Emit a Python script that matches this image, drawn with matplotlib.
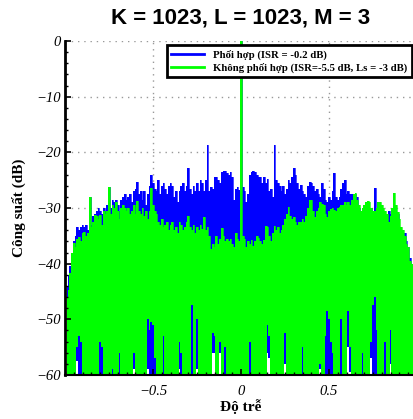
import numpy as np
import matplotlib
matplotlib.use("Agg")
import matplotlib.pyplot as plt
from matplotlib.ticker import MultipleLocator

# Delay axis (normalised), one sample every 0.01 from -0.99 to 0.99
delay = np.round(np.arange(-99, 100) * 0.01, 2)

# Upper envelope (dB) -- "Phối hợp" (blue)
blue_left = [
    -44, -42, -40.5, -38, -36, -35, -33.5, -34, -33.5, -33,
    -33.5, -33, -34, -28, -33, -31.5, -31, -30.5, -30, -30.5,
    -31, -30, -30.5, -29.5, -26.2, -30, -28.5, -29, -28.5, -29.5,
    -30.5, -28.5, -28, -27.5, -28.5, -28, -27.5, -29, -27, -26.5,
    -25.3, -27.5, -27, -28.5, -27, -29.5, -27.5, -26, -24.1, -25.5,
    -26.5, -27, -25, -27.5, -26, -25.5, -26.5, -27.5, -26, -25.5,
    -26, -28, -27, -29, -27, -26, -25.5, -27, -26, -22.9,
    -26.5, -27.5, -26, -27, -25.5, -27, -25, -25.5, -27, -25,
    -18.7, -27, -26.2, -26.5, -24.4, -24.5, -25, -25.5, -23.5, -23.3,
    -23.4, -23.8, -24, -23.6, -24.5, -28.5, -26.5, -26.2, -26.8,
]
blue_zero = [0.0]
blue_right = [
    -26.2, -27, -29, -27.5, -24, -23.5, -23.3, -23.5, -24, -24.5,
    -24.5, -25.5, -24.5, -25.5, -24.8, -27, -26.5, -28, -18.7, -25,
    -25.5, -26, -27, -26, -27.5, -26.5, -25, -25.5, -24.5, -22.9,
    -24, -25.5, -26.5, -25.8, -27, -27.5, -28, -26, -25.3, -25.5,
    -26, -27, -26.5, -27.5, -28, -25.5, -26.5, -28.6, -29, -28,
    -28.5, -27, -23.7, -28, -28.5, -28, -26.5, -25.5, -25, -27.5,
    -27, -27.5, -27.5, -28, -27.5, -28, -30, -31, -30.5, -31.5,
    -30, -30.5, -31, -30, -31, -26.4, -31, -31.5, -30.5, -30.5,
    -31.5, -31, -32, -30.5, -31, -33, -32, -33, -31, -34,
    -34.5, -35, -34.5, -36, -37, -39, -40, -42, -44,
]

# Upper envelope (dB) -- "Không phối hợp" (green)
green_left = [
    -46, -44.7, -41.7, -38, -36.3, -37, -35.5, -35.2, -36, -34.5,
    -34.3, -35, -34.5, -28, -33.5, -32.5, -31.3, -31.5, -32, -31.3,
    -33, -30.5, -31, -30.5, -26.2, -31, -29.5, -30, -29, -30.5,
    -32, -30, -29.5, -30, -30.5, -30, -31, -30.5, -29.5, -31,
    -28.7, -30.5, -31, -30, -31.5, -30.5, -32, -30.5, -26.4, -29.5,
    -30.5, -31, -32.5, -33, -32, -33.5, -33, -32.5, -34, -33,
    -32.5, -34, -33.5, -34.5, -32.5, -33, -34, -33.5, -32.5, -31.5,
    -33.5, -34, -33, -34.5, -33.5, -34, -33, -33.7, -31.6, -34,
    -33.5, -35, -37.3, -36.5, -37, -35, -36.5, -35.5, -33.6, -35,
    -36, -35.5, -36, -35.5, -36.5, -37, -34.5, -35.5, -36,
]
green_zero = [0.0]
green_right = [
    -35.1, -35.5, -37, -36, -36.5, -35.7, -36.8, -36, -35.1, -35.3,
    -36, -36.5, -35.8, -33.3, -33.5, -35, -36, -34.5, -33.3, -34,
    -33.5, -34.5, -34, -33, -32, -31, -29.8, -31.5, -32, -31.6,
    -32.5, -33, -32.5, -32.5, -32, -32.5, -31.5, -30, -28.6, -28.6,
    -30.5, -31.6, -30.5, -30, -29, -29.3, -29.5, -31, -31.6, -30.5,
    -30.2, -30, -30.3, -30.5, -30, -29.8, -29.5, -29.5, -29, -29.5,
    -29, -29.5, -28.5, -27.5, -27.3, -28.5, -29.5, -30.5, -30, -29.5,
    -29, -28.8, -29, -30, -30.5, -30.5, -30, -29, -29, -29.5,
    -30, -30.5, -31, -32.5, -31.5, -30, -27.3, -29.5, -30.8, -32,
    -33.5, -34, -35, -36.5, -37, -39.5, -40, -43, -45,
]

# Delays where the curves' troughs stay above the -60 dB floor
# (green trough level / blue trough level; -80 = reaches below the axis)
gap_delay = [-0.93, -0.92, -0.91, -0.80, -0.79, -0.73, -0.69, -0.61,
             -0.53, -0.52, -0.51, -0.50, -0.49, -0.44, -0.35, -0.34,
             -0.28, -0.25, -0.16, -0.15, -0.12, -0.09, 0.05, 0.15,
             0.16, 0.25, 0.35, 0.45, 0.48, 0.49, 0.50, 0.51, 0.52,
             0.57, 0.61, 0.62, 0.69, 0.74, 0.75, 0.76, 0.77, 0.82, 0.85]
gap_green_db = [-55, -53, -54, -54, -55, -59, -56, -56,
                -50, -52, -50.5, -51, -57, -53, -54, -56,
                -47.5, -50, -52.5, -53, -54, -55, -54, -51,
                -53, -52.5, -55, -58, -53, -48.5, -50, -54, -56,
                -50, -48.5, -55, -56, -54, -47.5, -46, -52, -54, -52]
gap_blue_db = [-57.5, -80, -80, -80, -80, -80, -80, -59,
               -59, -80, -80, -80, -80, -80, -59, -80,
               -80, -59, -56, -56, -56, -80, -80, -56,
               -57, -58, -80, -59, -80, -80, -80, -80, -80,
               -80, -55, -59.5, -80, -57, -80, -80, -80, -80, -58]

blue_db = np.array(blue_left + blue_zero + blue_right)
green_db = np.array(green_left + green_zero + green_right)

labels = ["Phối hợp (ISR = -0.2 dB)",
          "Không phối hợp (ISR=-5.5 dB, Ls = -3 dB)"]
title = "K = 1023, L = 1023, M = 3"
yticks = [0, -10, -20, -30, -40, -50, -60]
ytick_labels = ["0", "\u221210", "\u221220", "\u221230", "\u221240",
                "\u221250", "\u221260"]
xticks = [-0.5, 0, 0.5]
xtick_labels = ["\u22120.5", "0", "0.5"]

BLUE = "#0000ff"
GREEN = "#00ff00"

# lower bounds of each filled trace
floor = -80.0
green_low = np.full(delay.shape, floor)
blue_low = np.full(delay.shape, floor)
for d, g, b in zip(gap_delay, gap_green_db, gap_blue_db):
    i = int(np.argmin(np.abs(delay - d)))
    green_low[i] = g
    blue_low[i] = b

W, H = 413, 419
fig = plt.figure(figsize=(W / 100, H / 100), dpi=100)
ax = fig.add_axes([65 / W, 44 / H, 352 / W, 334 / H])

# dotted grid behind the data, axis/ticks stay on top
grid_style = dict(color="#999999", linestyle=(0, (1, 3.5)), linewidth=1,
                  zorder=0.5)
for yv in yticks:
    ax.axhline(yv, **grid_style)
for xv in xticks:
    ax.axvline(xv, **grid_style)

ax.fill_between(delay, blue_low, blue_db, step="mid", color=BLUE, lw=0,
                zorder=1)
ax.fill_between(delay, green_low, green_db, step="mid", color=GREEN, lw=0,
                zorder=1.1)
ax.plot(delay, blue_db, drawstyle="steps-mid", color=BLUE, lw=0.5, zorder=1)
ax.plot(delay, green_db, drawstyle="steps-mid", color=GREEN, lw=0.5,
        zorder=1.1)

ax.set_xlim(-1, 1)
ax.set_ylim(-60, 0)
ax.set_yticks(yticks)
ax.set_xticks(xticks)
ax.yaxis.set_minor_locator(MultipleLocator(2))
ax.xaxis.set_minor_locator(MultipleLocator(0.05))

tick_font = dict(family="Liberation Serif", style="italic", size=10.5)
ax.set_yticklabels(ytick_labels, **tick_font)
ax.set_xticklabels(xtick_labels, **tick_font)

ax.tick_params(axis="both", which="major", direction="in", length=4,
               width=1.2, color="black", pad=3)
ax.tick_params(axis="both", which="minor", direction="in", length=2,
               width=1, color="black")
ax.tick_params(axis="x", pad=7)

for s in ["top", "right"]:
    ax.spines[s].set_visible(False)
ax.spines["left"].set_linewidth(2)
ax.spines["bottom"].set_linewidth(1.5)
ax.set_axisbelow(False)

ax.set_ylabel("Công suất (dB)", family="Liberation Serif", weight="bold",
              size=11, labelpad=7)
ax.set_xlabel("Độ trễ", family="Liberation Serif", weight="bold", size=11,
              labelpad=1)
fig.text(241 / W, 1 - 18 / H, title, ha="center", va="center",
         family="Liberation Sans", weight="bold", size=16)

leg_lb = plt.Line2D([], [], color=BLUE, lw=2)
leg_lg = plt.Line2D([], [], color=GREEN, lw=2)
leg = ax.legend([leg_lb, leg_lg], labels, loc="upper right",
                bbox_to_anchor=(412 / W, 1 - 45 / H),
                bbox_transform=fig.transFigure, borderaxespad=0,
                prop=dict(family="Liberation Serif", weight="bold", size=7.75),
                fancybox=False, framealpha=1, edgecolor="black",
                handlelength=3.0, handletextpad=0.9, labelspacing=0.3,
                borderpad=0.4)
leg.get_frame().set_linewidth(2)
leg.set_zorder(5)

fig.savefig("out.png", dpi=100)
